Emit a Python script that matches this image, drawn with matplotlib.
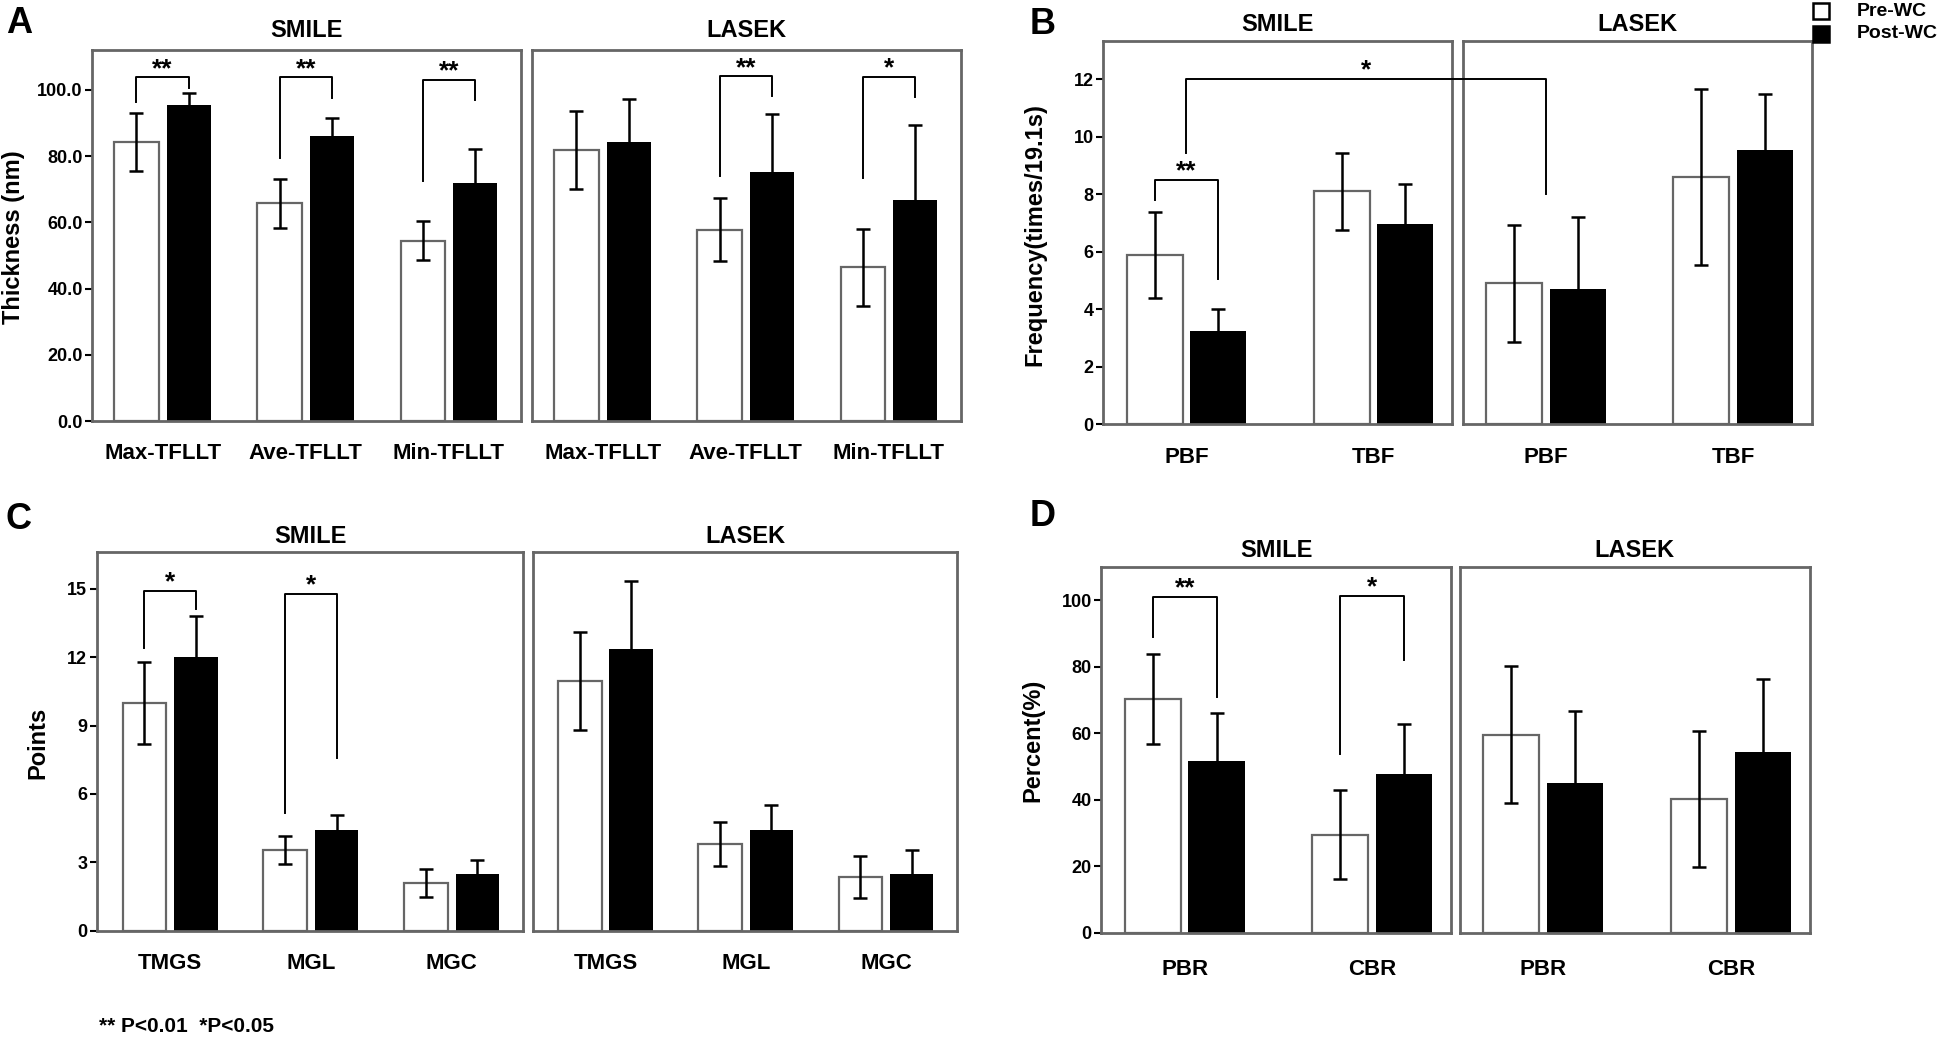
"""
Tear-film / meibomian measurements, SMILE vs LASEK, before and after
wearing contact lenses (Pre-WC / Post-WC). Four grouped bar panels A-D.
"""

import numpy as np
import matplotlib
matplotlib.use("Agg")
import matplotlib.pyplot as plt
from matplotlib.lines import Line2D
from matplotlib.patches import Rectangle
from matplotlib.ticker import FormatStrFormatter

plt.rcParams["font.family"] = ["Liberation Sans", "DejaVu Sans"]
plt.rcParams["font.weight"] = "bold"

# --- Panel A: lipid layer thickness (nm) ---
a_labels = ["Max-TFLLT", "Ave-TFLLT", "Min-TFLLT"]
a_smile_pre = [84.2, 65.7, 54.5]
a_smile_pre_err = [8.8, 7.3, 6.0]
a_smile_post = [95.4, 86.0, 71.8]
a_smile_post_err = [3.6, 5.4, 10.2]
a_lasek_pre = [81.8, 57.8, 46.5]
a_lasek_pre_err = [11.9, 9.6, 11.6]
a_lasek_post = [84.3, 75.1, 66.7]
a_lasek_post_err = [12.8, 17.6, 22.6]
# (group, bracket top, left leg end, right leg end, stars)
a_smile_sig = [(0, 103.7, 96.3, 100.5, "**"), (1, 103.7, 79.3, 97.5, "**"),
               (2, 103.0, 72.6, 97.0, "**")]
a_lasek_sig = [(1, 104.0, 74.0, 98.0, "**"), (2, 103.9, 73.3, 97.7, "*")]

# --- Panel B: blink frequency ---
b_labels = ["PBF", "TBF"]
b_smile_pre = [5.9, 8.1]
b_smile_pre_err = [1.5, 1.35]
b_smile_post = [3.25, 6.97]
b_smile_post_err = [0.75, 1.4]
b_lasek_pre = [4.9, 8.6]
b_lasek_pre_err = [2.05, 3.05]
b_lasek_post = [4.7, 9.55]
b_lasek_post_err = [2.5, 1.95]
b_smile_sig = [(0, 8.5, 7.8, 5.04, "**")]
b_cross_sig = (0, 0, 12.0, 9.43, 8.0, "*")  # SMILE PBF vs LASEK PBF

# --- Panel C: meibography points ---
c_labels = ["TMGS", "MGL", "MGC"]
c_smile_pre = [10.0, 3.54, 2.1]
c_smile_pre_err = [1.8, 0.63, 0.63]
c_smile_post = [12.0, 4.44, 2.47]
c_smile_post_err = [1.82, 0.62, 0.63]
c_lasek_pre = [10.95, 3.8, 2.35]
c_lasek_pre_err = [2.15, 0.97, 0.92]
c_lasek_post = [12.35, 4.4, 2.47]
c_lasek_post_err = [3.0, 1.13, 1.07]
c_smile_sig = [(0, 14.9, 12.42, 14.13, "*"), (1, 14.78, 5.17, 7.57, "*")]

# --- Panel D: blink ratios (%) ---
d_labels = ["PBR", "CBR"]
d_smile_pre = [70.3, 29.5]
d_smile_pre_err = [13.5, 13.3]
d_smile_post = [51.7, 47.7]
d_smile_post_err = [14.5, 15.0]
d_lasek_pre = [59.6, 40.2]
d_lasek_pre_err = [20.5, 20.5]
d_lasek_post = [45.0, 54.5]
d_lasek_post_err = [21.8, 21.8]
d_smile_sig = [(0, 101.0, 89.0, 71.0, "**"), (1, 101.2, 53.9, 82.1, "*")]

GRAY = "#666666"

fig = plt.figure(figsize=(19.46, 10.40), dpi=100)


def make_axes(rect, xlim, ylim, show_y, yticks=None, fmt=None, xpad=16):
    ax = fig.add_axes(rect)
    ax.set_xlim(*xlim)
    ax.set_ylim(*ylim)
    for sp in ax.spines.values():
        sp.set_color(GRAY)
        sp.set_linewidth(2.0)
    ax.tick_params(axis="x", length=0, pad=xpad, labelsize=16)
    if show_y:
        ax.set_yticks(yticks)
        if fmt:
            ax.yaxis.set_major_formatter(FormatStrFormatter(fmt))
        ax.tick_params(axis="y", length=5, width=1.5, color="black", pad=2, labelsize=13)
    else:
        ax.tick_params(axis="y", left=False, labelleft=False)
    return ax


def draw_bars(ax, labels, pre, pre_err, post, post_err, width, off):
    x = np.arange(len(labels))
    ax.bar(x - off, pre, width, color="white", edgecolor=GRAY, linewidth=1.6, zorder=2)
    ax.bar(x + off, post, width, color="black", edgecolor="black", linewidth=0, zorder=2)
    ax.errorbar(x - off, pre, yerr=pre_err, fmt="none", ecolor="black",
                elinewidth=1.8, capsize=5, capthick=1.8, zorder=3)
    ax.errorbar(x + off, post, yerr=post_err, fmt="none", ecolor="black",
                elinewidth=1.8, capsize=5, capthick=1.8, zorder=3)
    ax.set_xticks(x, labels)


def brackets(ax, sigs, off):
    for g, top, y1, y2, txt in sigs:
        x1, x2 = g - off, g + off
        ax.plot([x1, x1, x2, x2], [y1, top, top, y2], color="black", lw=1.4,
                zorder=4, clip_on=False)
        ax.annotate(txt, xy=((x1 + x2) / 2, top), xytext=(0, 1),
                    textcoords="offset points", ha="center", va="baseline",
                    fontsize=19, fontweight="bold")


def pair(left_rect, right_rect, labels, data_s, data_l, xlim, ylim, yticks, fmt,
         width, off, pad_t, xpad=16):
    axs = make_axes(left_rect, xlim, ylim, True, yticks, fmt, xpad)
    axl = make_axes(right_rect, xlim, ylim, False, xpad=xpad)
    draw_bars(axs, labels, *data_s, width, off)
    draw_bars(axl, labels, *data_l, width, off)
    axs.set_title("SMILE", fontsize=17, fontweight="bold", pad=pad_t)
    axl.set_title("LASEK", fontsize=17, fontweight="bold", pad=pad_t)
    return axs, axl


# Panel A
axA_s, axA_l = pair([0.0475, 0.595, 0.220, 0.357], [0.2736, 0.595, 0.220, 0.357],
                    a_labels,
                    (a_smile_pre, a_smile_pre_err, a_smile_post, a_smile_post_err),
                    (a_lasek_pre, a_lasek_pre_err, a_lasek_post, a_lasek_post_err),
                    (-0.49, 2.5), (0, 112), [0, 20, 40, 60, 80, 100], "%.1f",
                    0.31, 0.183, 9)
brackets(axA_s, a_smile_sig, 0.183)
brackets(axA_l, a_lasek_sig, 0.183)

# Panel B
axB_s, axB_l = pair([0.567, 0.592, 0.179, 0.369], [0.7516, 0.592, 0.1794, 0.369],
                    b_labels,
                    (b_smile_pre, b_smile_pre_err, b_smile_post, b_smile_post_err),
                    (b_lasek_pre, b_lasek_pre_err, b_lasek_post, b_lasek_post_err),
                    (-0.445, 1.42), (0, 13.35), [0, 2, 4, 6, 8, 10, 12], None,
                    0.30, 0.17, 7)
brackets(axB_s, b_smile_sig, 0.17)

# Panel C
axC_s, axC_l = pair([0.0498, 0.105, 0.2192, 0.364], [0.2737, 0.105, 0.2183, 0.364],
                    c_labels,
                    (c_smile_pre, c_smile_pre_err, c_smile_post, c_smile_post_err),
                    (c_lasek_pre, c_lasek_pre_err, c_lasek_post, c_lasek_post_err),
                    (-0.52, 2.51), (0, 16.6), [0, 3, 6, 9, 12, 15], None,
                    0.31, 0.183, 7)
brackets(axC_s, c_smile_sig, 0.183)

# Panel D
axD_s, axD_l = pair([0.566, 0.103, 0.1794, 0.352], [0.750, 0.103, 0.180, 0.352],
                    d_labels,
                    (d_smile_pre, d_smile_pre_err, d_smile_post, d_smile_post_err),
                    (d_lasek_pre, d_lasek_pre_err, d_lasek_post, d_lasek_post_err),
                    (-0.445, 1.42), (0, 110), [0, 20, 40, 60, 80, 100], None,
                    0.30, 0.17, 7, xpad=19)
brackets(axD_s, d_smile_sig, 0.17)

# Cross-panel bracket in B (SMILE PBF vs LASEK PBF), drawn in figure coords
gs, gl, top, y1, y2, txt = b_cross_sig
to_fig = fig.transFigure.inverted()
p1 = to_fig.transform(axB_s.transData.transform((gs, y1)))
p2 = to_fig.transform(axB_s.transData.transform((gs, top)))
p3 = to_fig.transform(axB_l.transData.transform((gl, top)))
p4 = to_fig.transform(axB_l.transData.transform((gl, y2)))
fig.add_artist(Line2D([p1[0], p2[0], p3[0], p4[0]], [p1[1], p2[1], p3[1], p4[1]],
                      color="black", lw=1.4, transform=fig.transFigure))
fig.text((p2[0] + p3[0]) / 2, p2[1] + 0.002, txt, ha="center", va="baseline",
         fontsize=19, fontweight="bold")

# Panel letters
for letter, x, y in [("A", 0.003, 0.994), ("B", 0.529, 0.993),
                     ("C", 0.003, 0.517), ("D", 0.529, 0.520)]:
    fig.text(x, y, letter, fontsize=26, fontweight="bold", ha="left", va="top")

# Y-axis labels
for txt, x, y in [("Thickness (nm)", 0.007, 0.772),
                  ("Frequency(times/19.1s)", 0.532, 0.774),
                  ("Points", 0.0197, 0.286),
                  ("Percent(%)", 0.531, 0.288)]:
    fig.text(x, y, txt, rotation=90, fontsize=17, fontweight="bold",
             ha="center", va="center")

# Legend (top right)
for label, yc, face in [("Pre-WC", 11, "white"), ("Post-WC", 34, "black")]:
    yf = 1 - yc / 1040
    fig.add_artist(Rectangle((1813 / 1946, yf - 8 / 1040), 16 / 1946, 16 / 1040,
                             facecolor=face, edgecolor="black", linewidth=1.8,
                             transform=fig.transFigure))
    fig.text(1857 / 1946, yf, label, fontsize=14, fontweight="bold",
             ha="left", va="center")

# Footnote
fig.text(0.051, 0.013, "** P<0.01  *P<0.05", fontsize=15, fontweight="bold",
         ha="left", va="center")

fig.savefig("out.png", dpi=100, facecolor="white")
